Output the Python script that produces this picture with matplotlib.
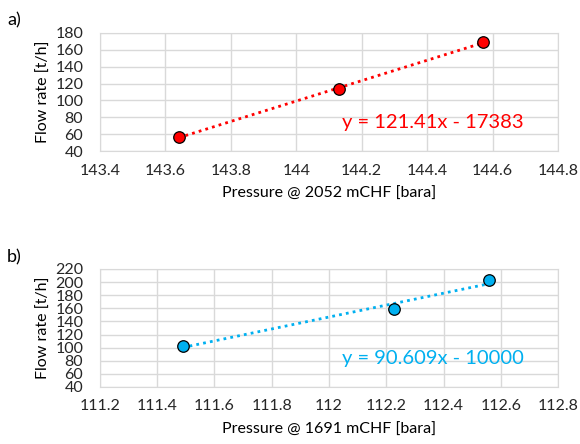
import matplotlib
matplotlib.use("Agg")
import matplotlib.pyplot as plt
import numpy as np

# panel a) pressure @ 2052 mCHF vs flow rate
press_a = [143.641, 144.131, 144.572]
flow_a = [56.6, 113.5, 169.3]
eq_a = "y = 121.41x - 17383"

# panel b) pressure @ 1691 mCHF vs flow rate
press_b = [111.489, 112.228, 112.558]
flow_b = [103.0, 158.5, 203.6]
eq_b = "y = 90.609x - 10000"

RED, BLUE, GRID, INK = "#ff0000", "#00b0f0", "#d9d9d9", "#262626"

plt.rcParams.update({"font.family": ["Lato", "DejaVu Sans"], "font.size": 11.5,
                     "text.color": INK, "xtick.color": INK, "ytick.color": INK})

fig = plt.figure(figsize=(5.8, 4.44), dpi=100)


def panel(rect, xs, ys, color, eq, xlim, xticks, ylim, yticks, xlabel, tag, tag_y):
    ax = fig.add_axes(rect)
    k, b = np.polyfit(xs, ys, 1)
    xf = np.array([min(xs), max(xs)])
    ax.plot(xf, k * xf + b, ls=(0, (1, 1.5)), lw=2, color=color, zorder=2)
    ax.plot(xs, ys, "o", ms=8.3, mfc=color, mec="black", mew=0.9, zorder=3)
    ax.set_xlim(*xlim); ax.set_ylim(*ylim)
    ax.set_xticks(xticks); ax.set_yticks(yticks)
    ax.set_xticklabels([f"{t:g}" for t in xticks])
    ax.grid(color=GRID, lw=1, zorder=0)
    for sp in ax.spines.values():
        sp.set_color(GRID)
    ax.tick_params(length=0, labelsize=11.5)
    ax.tick_params(axis="x", pad=9)
    ax.tick_params(axis="y", pad=12)
    ax.set_xlabel(xlabel, fontsize=11.5, labelpad=7)
    ax.set_ylabel("Flow rate [t/h]", fontsize=11.5, labelpad=3)
    ax.text(0.529, 0.24, eq, transform=ax.transAxes, color=color, fontsize=14.5,
            ha="left", va="center")
    fig.text(0.012, tag_y, tag, fontsize=13, color="black", va="center")
    return ax


panel([0.1724, 0.6599, 0.7897, 0.2658], press_a, flow_a, RED, eq_a,
      (143.4, 144.8), np.round(np.arange(143.4, 144.81, 0.2), 1),
      (40, 180), np.arange(40, 181, 20), "Pressure @ 2052 mCHF [bara]", "a)", 0.955)
panel([0.1724, 0.1284, 0.7897, 0.2658], press_b, flow_b, BLUE, eq_b,
      (111.2, 112.8), np.round(np.arange(111.2, 112.81, 0.2), 1),
      (40, 220), np.arange(40, 221, 20), "Pressure @ 1691 mCHF [bara]", "b)", 0.42)

fig.savefig("out.png", dpi=100, facecolor="white")
